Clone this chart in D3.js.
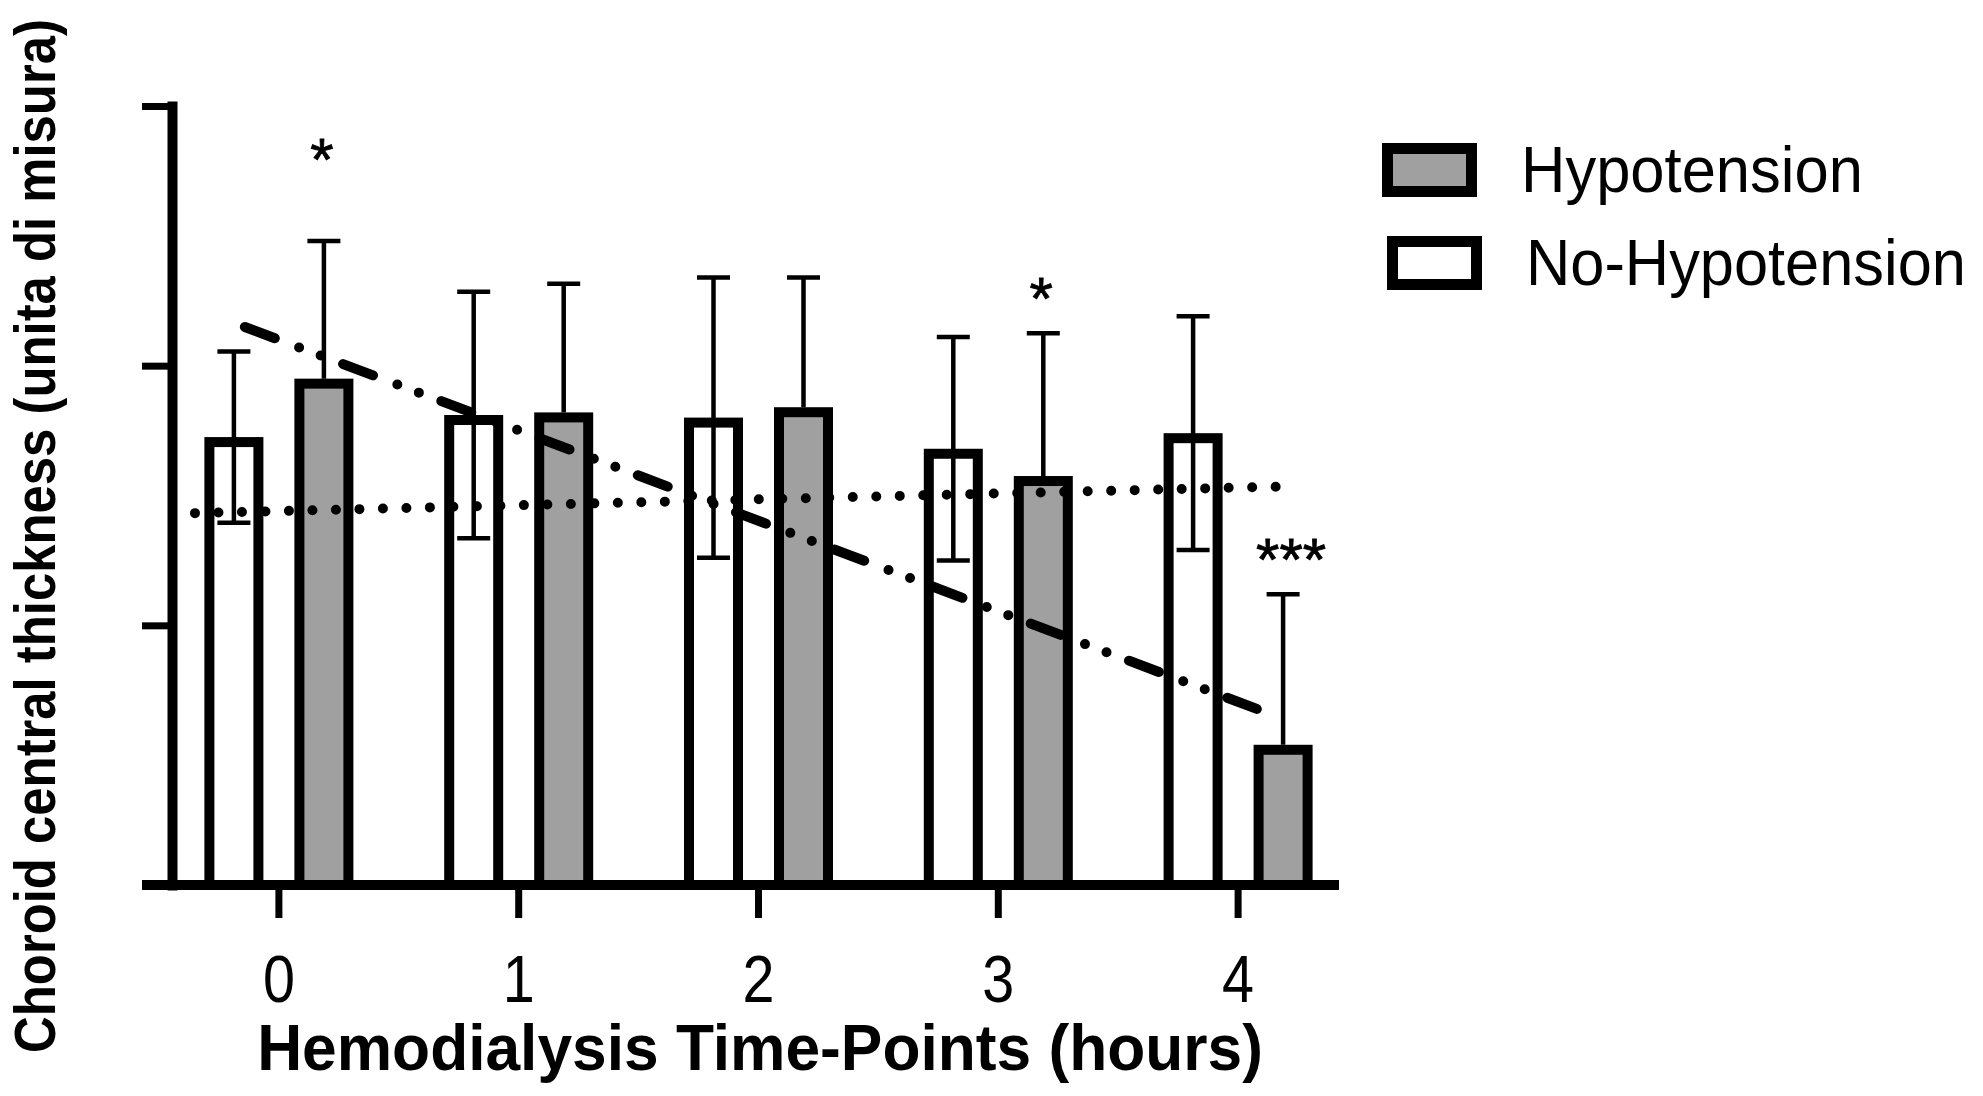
<!DOCTYPE html>
<html>
<head>
<meta charset="utf-8">
<script src="https://cdn.jsdelivr.net/npm/d3@7/dist/d3.min.js"></script>
<style>
  html, body { margin: 0; padding: 0; background: #ffffff; }
  svg { display: block; }
</style>
</head>
<body>
<script>
// ---------------- DATA ----------------
const hours = ["0", "1", "2", "3", "4"];
const seriesNames = ["No-Hypotension", "Hypotension"];
const noHypMean = [172.5, 181, 180, 168, 174];
const noHypSD   = [33, 47.5, 54, 43, 45];
const hypMean   = [195, 182, 184, 157.5, 54];
const hypSD     = [53, 49.5, 50, 55, 58];
const yTicks = [0, 100, 200, 300];
// trend lines (t = hour position, v = value)
const hypTrend   = [{ t: -0.142, v: 214.9 }, { t: 4.078, v: 67.8 }];
const noHypTrend = [{ t: -0.35, v: 143.2 }, { t: 4.245, v: 153.6 }];
// significance marks
const starIdx    = [0, 3, 4];
const starLabels = ["*", "*", "***"];
const starVals   = [271.5, 217.9, 117.4];
const legendLabels = ["Hypotension", "No-Hypotension"];

const xTitle = "Hemodialysis Time-Points (hours)";
const yTitle = "Choroid central thickness (unita di misura)";

// ---------------- LAYOUT ----------------
const W = 1983, H = 1096;
const FONT = "'Liberation Sans', Arial, Helvetica, sans-serif";
const fills = { "No-Hypotension": "#ffffff", "Hypotension": "#a0a0a0" };

const svg = d3.select("body").append("svg")
  .attr("width", W).attr("height", H)
  .attr("viewBox", `0 0 ${W} ${H}`);
svg.append("rect").attr("width", W).attr("height", H).attr("fill", "#fff");

// scale a text horizontally (in its own frame) so that it spans targetW
function fitText(sel, targetW, baseTransform) {
  sel.each(function () {
    const w = this.getComputedTextLength();
    const s = Math.min(1, targetW / w);
    d3.select(this).attr("transform", `${baseTransform} scale(${s},1)`);
  });
}

const x = d3.scaleBand().domain(hours).range([159, 1358]);
const xLin = d3.scaleLinear().domain([0, 4])
  .range([x("0") + x.bandwidth() / 2, x("4") + x.bandwidth() / 2]);
const sub = d3.scalePoint().domain(seriesNames).range([-45, 45]);
const y = d3.scaleLinear().domain([0, 300]).range([885, 106]);

const barW = 49, barStroke = 10;

// rows of data
const rows = [];
hours.forEach((h, i) => {
  rows.push({ h, s: "No-Hypotension", m: noHypMean[i], sd: noHypSD[i] });
  rows.push({ h, s: "Hypotension", m: hypMean[i], sd: hypSD[i] });
});
const cx = d => x(d.h) + x.bandwidth() / 2 + sub(d.s);

// ---------------- AXES ----------------
const yAxis = d3.axisLeft(y).tickValues(yTicks).tickSize(30).tickSizeOuter(0).tickFormat("");
const gy = svg.append("g").attr("transform", "translate(172,0)").call(yAxis);
gy.select(".domain").attr("stroke", "#000").attr("stroke-width", 10).attr("stroke-linecap", "square");
gy.selectAll(".tick line").attr("stroke", "#000").attr("stroke-width", 7);

// ---------------- BARS ----------------
svg.append("g").selectAll("rect").data(rows).join("rect")
  .attr("x", d => cx(d) - barW / 2)
  .attr("y", d => y(d.m) + barStroke / 2)
  .attr("width", barW)
  .attr("height", d => y(0) - y(d.m) - barStroke / 2)
  .attr("fill", d => fills[d.s])
  .attr("stroke", "#000")
  .attr("stroke-width", barStroke);

// ---------------- ERROR BARS ----------------
const eg = svg.append("g").attr("stroke", "#000").attr("stroke-width", 4.5);
rows.forEach(d => {
  const c = cx(d);
  const top = y(d.m + d.sd);
  const bot = d.s === "No-Hypotension" ? y(d.m - d.sd) : y(d.m);
  eg.append("line").attr("x1", c).attr("x2", c).attr("y1", top).attr("y2", bot);
  eg.append("line").attr("x1", c - 16.5).attr("x2", c + 16.5).attr("y1", top).attr("y2", top);
  if (d.s === "No-Hypotension") {
    eg.append("line").attr("x1", c - 16.5).attr("x2", c + 16.5).attr("y1", bot).attr("y2", bot);
  }
});

// ---------------- X AXIS ----------------
svg.append("line").attr("x1", 142).attr("x2", 1339).attr("y1", y(0)).attr("y2", y(0))
  .attr("stroke", "#000").attr("stroke-width", 10);
const xAxis = d3.axisBottom(x).tickSize(33).tickSizeOuter(0).tickPadding(0);
const gx = svg.append("g").attr("transform", `translate(0,${y(0)})`).call(xAxis);
gx.select(".domain").remove();
gx.selectAll(".tick line").attr("stroke", "#000").attr("stroke-width", 7);
gx.selectAll(".tick text")
  .attr("y", 117).attr("dy", null)
  .attr("font-family", FONT).attr("font-size", 66).attr("fill", "#000")
  .attr("textLength", 32).attr("lengthAdjust", "spacingAndGlyphs");

// ---------------- TREND LINES ----------------
const line = d3.line().x(d => xLin(d.t)).y(d => y(d.v));
svg.append("path").datum(noHypTrend).attr("d", line)
  .attr("fill", "none").attr("stroke", "#000").attr("stroke-width", 10)
  .attr("stroke-linecap", "round").attr("stroke-dasharray", "0,23.5");
svg.append("path").datum(hypTrend).attr("d", line)
  .attr("fill", "none").attr("stroke", "#000").attr("stroke-width", 10)
  .attr("stroke-linecap", "round").attr("stroke-dasharray", "32,26,0,23,0,24");

// ---------------- STARS ----------------
svg.append("g").selectAll("text").data(starIdx).join("text")
  .attr("x", (d, i) => x(hours[d]) + x.bandwidth() / 2 + sub("Hypotension") + (starLabels[i].length > 1 ? 8 : -2))
  .attr("y", (d, i) => y(starVals[i]))
  .attr("text-anchor", "middle")
  .attr("font-family", FONT).attr("font-size", 60).attr("fill", "#000")
  .attr("stroke", "#000").attr("stroke-width", 0.8)
  .text((d, i) => starLabels[i]);

// ---------------- AXIS TITLES ----------------
svg.append("text")
  .attr("text-anchor", "middle")
  .attr("font-family", FONT).attr("font-weight", "bold").attr("font-size", 65)
  .text(xTitle)
  .call(fitText, 1006, "translate(760,1070)");

svg.append("text")
  .attr("text-anchor", "middle")
  .attr("font-family", FONT).attr("font-weight", "bold").attr("font-size", 57)
  .text(yTitle)
  .call(fitText, 1034, "translate(55,536) rotate(-90)");

// ---------------- LEGEND ----------------
const legendFill = ["Hypotension", "No-Hypotension"];
const legLens = [342, 440];
const lg = svg.append("g").selectAll("g").data(legendLabels).join("g")
  .attr("transform", (d, i) => `translate(${1387.5 + i * 5},${148.5 + i * 93})`);
lg.append("rect").attr("width", 84).attr("height", 43)
  .attr("fill", (d, i) => fills[legendFill[i]])
  .attr("stroke", "#000").attr("stroke-width", 11);
lg.append("text")
  .attr("font-family", FONT).attr("font-size", 65).attr("fill", "#000")
  .text(d => d)
  .each(function (d, i) {
    fitText(d3.select(this), legLens[i], "translate(133.5,43.5)");
  });
</script>
</body>
</html>
